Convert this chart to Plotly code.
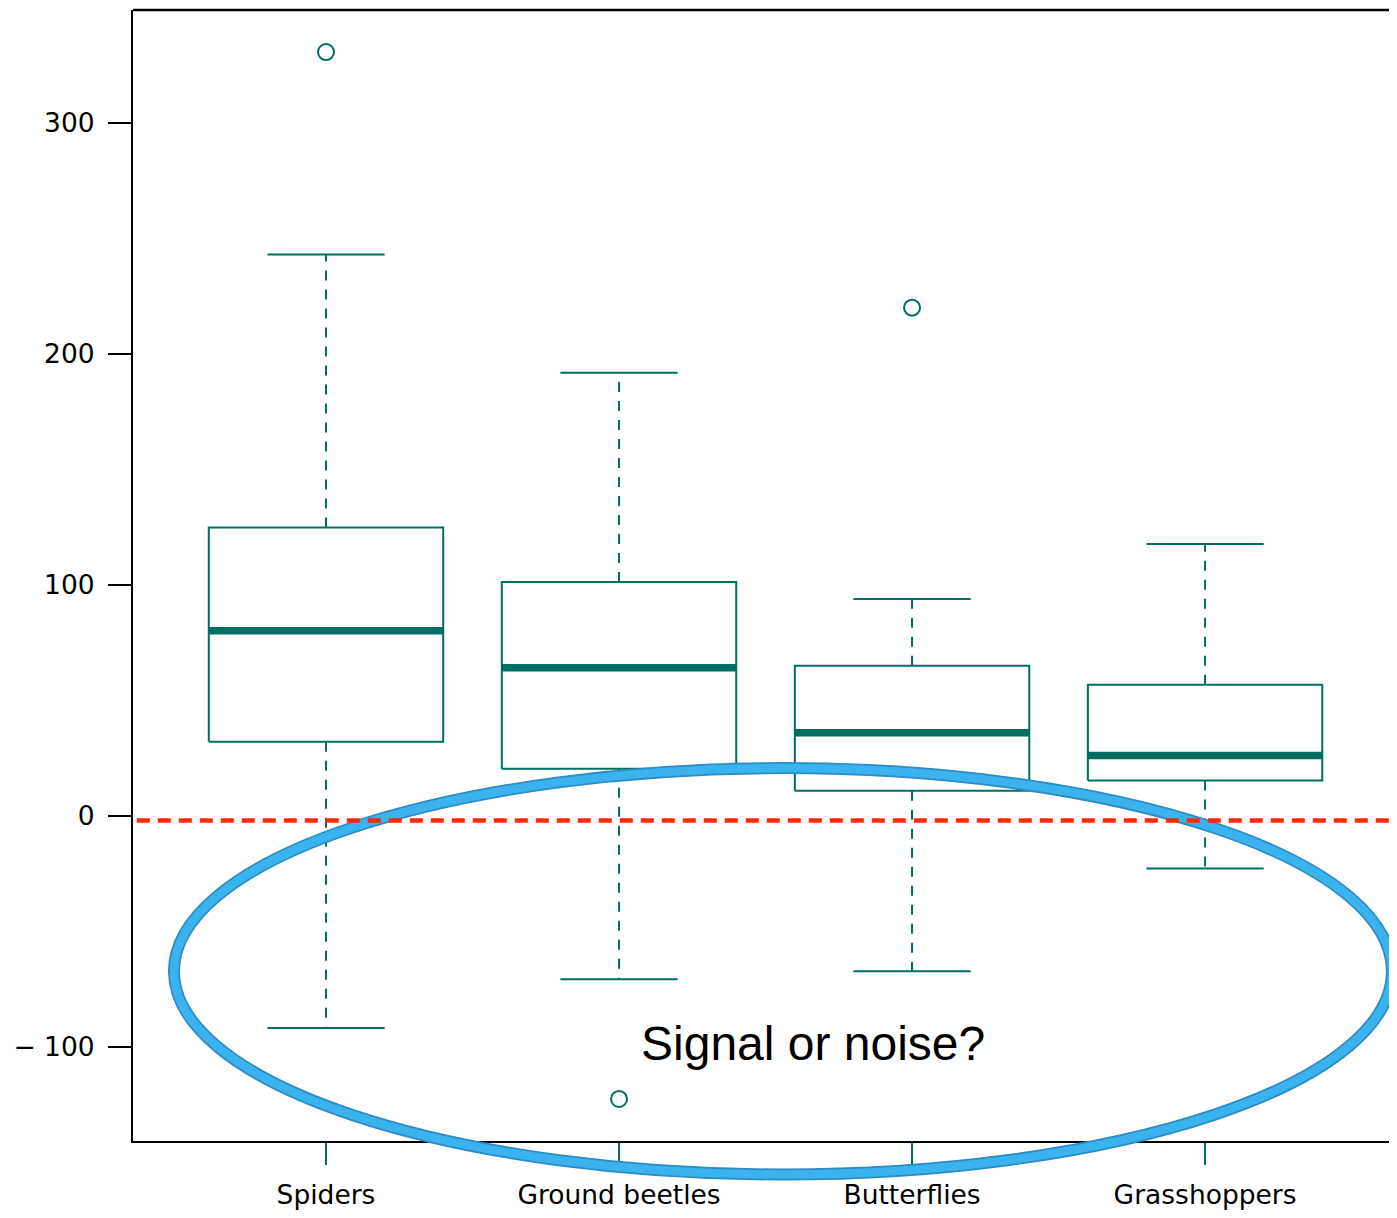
import plotly.graph_objects as go

# ---- data ----
categories = ["Spiders", "Ground beetles", "Butterflies", "Grasshoppers"]
q1 = [32.1, 20.4, 10.9, 15.3]
median = [80.2, 64.1, 36.0, 26.1]
q3 = [124.9, 101.3, 65.0, 56.8]
whisker_low = [-91.9, -70.8, -67.3, -22.8]
whisker_high = [243.1, 191.9, 93.9, 117.7]
outliers = {"Spiders": [330.8], "Ground beetles": [-122.6], "Butterflies": [220.1], "Grasshoppers": []}
ref_line = -2.0
y_ticks = [-100, 0, 100, 200, 300]
y_tick_text = ["\u2212 100", "0", "100", "200", "300"]
annotation_text = "Signal or noise?"

TEAL = "#006e63"
BOX_HALF = 0.4
CAP_HALF = 0.2
pos = list(range(len(categories)))

fig = go.Figure()

# whiskers (dashed)
wx, wy = [], []
for p, a, b, c, d in zip(pos, q1, q3, whisker_low, whisker_high):
    wx += [p, p, None, p, p, None]
    wy += [b, d, None, a, c, None]
fig.add_trace(go.Scatter(x=wx, y=wy, mode="lines", line=dict(color=TEAL, width=2, dash="10px,9px"),
                         hoverinfo="skip", showlegend=False))
# caps
cx, cy = [], []
for p, c, d in zip(pos, whisker_low, whisker_high):
    cx += [p - CAP_HALF, p + CAP_HALF, None, p - CAP_HALF, p + CAP_HALF, None]
    cy += [c, c, None, d, d, None]
fig.add_trace(go.Scatter(x=cx, y=cy, mode="lines", line=dict(color=TEAL, width=2),
                         hoverinfo="skip", showlegend=False))
# boxes
bx, by = [], []
for p, a, b in zip(pos, q1, q3):
    bx += [p - BOX_HALF, p + BOX_HALF, p + BOX_HALF, p - BOX_HALF, p - BOX_HALF, None]
    by += [a, a, b, b, a, None]
fig.add_trace(go.Scatter(x=bx, y=by, mode="lines", fill="toself", fillcolor="white",
                         line=dict(color=TEAL, width=2), hoverinfo="skip", showlegend=False))
# medians
mx, my = [], []
for p, m in zip(pos, median):
    mx += [p - BOX_HALF, p + BOX_HALF, None]
    my += [m, m, None]
fig.add_trace(go.Scatter(x=mx, y=my, mode="lines", line=dict(color=TEAL, width=7.5),
                         hoverinfo="skip", showlegend=False))
# outliers
ox, oy = [], []
for p, cat in zip(pos, categories):
    for v in outliers[cat]:
        ox.append(p)
        oy.append(v)
fig.add_trace(go.Scatter(x=ox, y=oy, mode="markers",
                         marker=dict(symbol="circle-open", size=16, color=TEAL, line=dict(width=2, color=TEAL)),
                         hoverinfo="skip", showlegend=False))

# ellipse highlight (paper coords)
ell = dict(type="circle", xref="paper", yref="paper", x0=0.0324, x1=0.9960, y0=-0.0296, y1=0.3297, layer="above")
fig.add_shape(**ell, line=dict(color="#2c8cc4", width=12))
fig.add_shape(**ell, line=dict(color="#3bb3ee", width=8.5))

# reference line
fig.add_shape(type="line", xref="paper", yref="y", x0=0.003, x1=1, y0=ref_line, y1=ref_line,
              line=dict(color="#ff2a00", width=4.5, dash="13px,8px"), layer="above")

# top border
fig.add_shape(type="line", xref="paper", yref="paper", x0=0, x1=1, y0=1, y1=1,
              line=dict(color="black", width=2.5), layer="above")

fig.add_annotation(text=annotation_text, xref="paper", yref="paper", x=0.5376, y=0.0865,
                   xanchor="center", yanchor="middle", showarrow=False,
                   font=dict(family="Liberation Sans, Arial", size=48, color="black"))

fig.update_layout(
    width=1389, height=1202,
    margin=dict(l=125, r=0, t=2, b=67),
    plot_bgcolor="white", paper_bgcolor="white",
    font=dict(family="DejaVu Sans, Verdana", size=26.5, color="black"),
    xaxis=dict(range=[-0.6587, 3.655], tickvals=pos, ticktext=categories, showgrid=False, zeroline=False,
               showline=True, linecolor="black", linewidth=2, ticks="outside", ticklen=22,
               tickwidth=2, tickcolor=TEAL, ticklabelstandoff=7),
    yaxis=dict(range=[-140.8, 349.0], tickvals=y_ticks, ticktext=y_tick_text, showgrid=False, zeroline=False,
               showline=True, linecolor="black", linewidth=2, ticks="outside", ticklen=23,
               tickwidth=2, tickcolor="black", ticklabelstandoff=8),
)

fig.write_html("out.html")
